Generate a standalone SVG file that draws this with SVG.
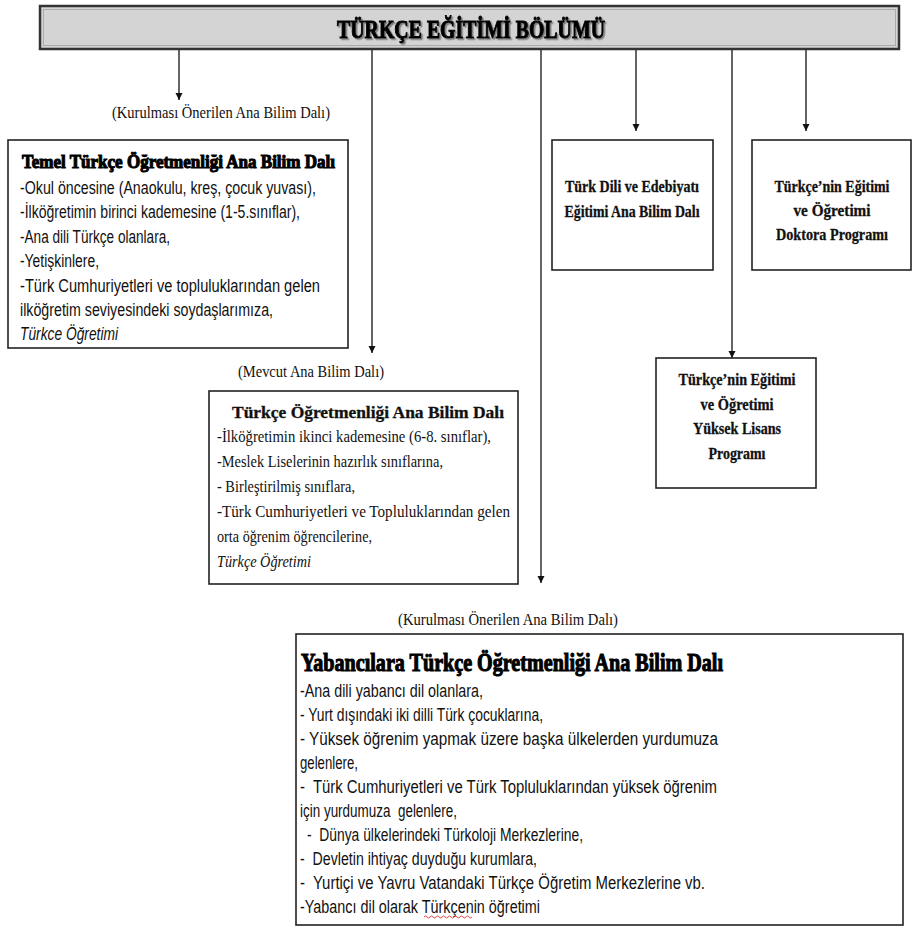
<svg xmlns="http://www.w3.org/2000/svg" width="924" height="929" viewBox="0 0 924 929">
<style>
.box{fill:#fff;stroke:#222;stroke-width:1.6}
.conn{stroke:#111;stroke-width:1.3;fill:none;marker-end:url(#ah)}
.lbl{font-family:"Liberation Serif",serif;font-size:16.5px;fill:#111}
.sans{font-family:"Liberation Sans",Arial,sans-serif;font-size:17.5px;fill:#111}
.serif{font-family:"Liberation Serif",serif;font-size:16.5px;fill:#111}
.heavy{font-family:"Liberation Serif",serif;font-weight:bold;fill:#000;stroke:#000;stroke-width:1.1}
.bs{font-family:"Liberation Serif",serif;font-weight:bold;font-size:17px;fill:#111;text-anchor:middle;stroke:#111;stroke-width:0.3}
.it{font-style:italic}
</style>
<defs>
<marker id="ah" viewBox="0 0 10 10" refX="10" refY="5" markerWidth="7" markerHeight="8" markerUnits="userSpaceOnUse" orient="auto">
<path d="M0,0 L10,5 L0,10 z" fill="#111"/>
</marker>
<filter id="sh" x="-5%" y="-20%" width="110%" height="150%">
<feDropShadow dx="1.5" dy="1.5" stdDeviation="0.6" flood-color="#666" flood-opacity="0.8"/>
</filter>
</defs>
<rect width="924" height="929" fill="#fff"/>

<g id="connectors">
<line class="conn" x1="179" y1="49" x2="179" y2="100"/>
<line class="conn" x1="372" y1="49" x2="372" y2="353"/>
<line class="conn" x1="541" y1="49" x2="541" y2="583"/>
<line class="conn" x1="636" y1="49" x2="636" y2="131"/>
<line class="conn" x1="732" y1="49" x2="732" y2="358"/>
<line class="conn" x1="806" y1="49" x2="806" y2="131"/>
</g>

<g id="header">
<rect x="40" y="6" width="859" height="43" fill="#d4d4d4" stroke="#333" stroke-width="2.5"/>
<rect x="43.5" y="9.5" width="852" height="36" fill="none" stroke="#aaa" stroke-width="1"/>
<text class="heavy" x="337" y="38" font-size="25" textLength="268" lengthAdjust="spacingAndGlyphs" filter="url(#sh)">TÜRKÇE EĞİTİMİ BÖLÜMÜ</text>
</g>

<g id="label1"><text class="lbl" x="112" y="118" textLength="218" lengthAdjust="spacingAndGlyphs">(Kurulması Önerilen Ana Bilim Dalı)</text></g>

<g id="temel">
<rect class="box" x="8" y="140" width="340" height="208"/>
<text class="heavy" x="22" y="168" font-size="19" textLength="313" lengthAdjust="spacingAndGlyphs">Temel Türkçe Öğretmenliği Ana Bilim Dalı</text>
<text class="sans" x="20" y="194" textLength="296" lengthAdjust="spacingAndGlyphs">-Okul öncesine (Anaokulu, kreş, çocuk yuvası),</text>
<text class="sans" x="20" y="218" textLength="280" lengthAdjust="spacingAndGlyphs">-İlköğretimin birinci kademesine (1-5.sınıflar),</text>
<text class="sans" x="20" y="243" textLength="150" lengthAdjust="spacingAndGlyphs">-Ana dili Türkçe olanlara,</text>
<text class="sans" x="20" y="267" textLength="79" lengthAdjust="spacingAndGlyphs">-Yetişkinlere,</text>
<text class="sans" x="20" y="292" textLength="300" lengthAdjust="spacingAndGlyphs">-Türk Cumhuriyetleri ve topluluklarından gelen</text>
<text class="sans" x="20" y="316" textLength="253" lengthAdjust="spacingAndGlyphs">ilköğretim seviyesindeki soydaşlarımıza,</text>
<text class="sans it" x="20" y="340" textLength="98" lengthAdjust="spacingAndGlyphs">Türkce Öğretimi</text>
</g>

<g id="label2"><text class="lbl" x="238" y="377" textLength="146" lengthAdjust="spacingAndGlyphs">(Mevcut Ana Bilim Dalı)</text></g>

<g id="mevcut">
<rect class="box" x="209" y="391" width="309" height="193"/>
<text class="serif" x="232" y="418" font-size="19" font-weight="bold" stroke="#111" stroke-width="0.3" textLength="272" lengthAdjust="spacingAndGlyphs">Türkçe Öğretmenliği Ana Bilim Dalı</text>
<text class="serif" x="217" y="442" textLength="274" lengthAdjust="spacingAndGlyphs">-İlköğretimin ikinci kademesine (6-8. sınıflar),</text>
<text class="serif" x="217" y="467" textLength="226" lengthAdjust="spacingAndGlyphs">-Meslek Liselerinin hazırlık sınıflarına,</text>
<text class="serif" x="217" y="492" textLength="138" lengthAdjust="spacingAndGlyphs">- Birleştirilmiş sınıflara,</text>
<text class="serif" x="217" y="517" textLength="293" lengthAdjust="spacingAndGlyphs">-Türk Cumhuriyetleri ve Topluluklarından gelen</text>
<text class="serif" x="217" y="542" textLength="155" lengthAdjust="spacingAndGlyphs">orta öğrenim öğrencilerine,</text>
<text class="serif it" x="217" y="567" textLength="94" lengthAdjust="spacingAndGlyphs">Türkçe Öğretimi</text>
</g>

<g id="label3"><text class="lbl" x="398" y="625" textLength="220" lengthAdjust="spacingAndGlyphs">(Kurulması Önerilen Ana Bilim Dalı)</text></g>

<g id="yabanci">
<rect class="box" x="296" y="634" width="607" height="291"/>
<text class="heavy" x="301" y="671" font-size="25" textLength="422" lengthAdjust="spacingAndGlyphs">Yabancılara Türkçe Öğretmenliği Ana Bilim Dalı</text>
<text class="sans" x="300" y="697" textLength="183" lengthAdjust="spacingAndGlyphs">-Ana dili yabancı dil olanlara,</text>
<text class="sans" x="300" y="721" textLength="243" lengthAdjust="spacingAndGlyphs">- Yurt dışındaki iki dilli Türk çocuklarına,</text>
<text class="sans" x="300" y="745" textLength="418" lengthAdjust="spacingAndGlyphs">- Yüksek öğrenim yapmak üzere başka ülkelerden yurdumuza</text>
<text class="sans" x="300" y="769" textLength="58" lengthAdjust="spacingAndGlyphs">gelenlere,</text>
<text class="sans" x="300" y="793" textLength="417" lengthAdjust="spacingAndGlyphs" xml:space="preserve">-  Türk Cumhuriyetleri ve Türk Topluluklarından yüksek öğrenim</text>
<text class="sans" x="300" y="817" textLength="157" lengthAdjust="spacingAndGlyphs" xml:space="preserve">için yurdumuza  gelenlere,</text>
<text class="sans" x="307" y="841" textLength="276" lengthAdjust="spacingAndGlyphs" xml:space="preserve">-  Dünya ülkelerindeki Türkoloji Merkezlerine,</text>
<text class="sans" x="300" y="865" textLength="237" lengthAdjust="spacingAndGlyphs" xml:space="preserve">-  Devletin ihtiyaç duyduğu kurumlara,</text>
<text class="sans" x="300" y="889" textLength="405" lengthAdjust="spacingAndGlyphs" xml:space="preserve">-  Yurtiçi ve Yavru Vatandaki Türkçe Öğretim Merkezlerine vb.</text>
<text class="sans" x="300" y="913" textLength="240" lengthAdjust="spacingAndGlyphs">-Yabancı dil olarak Türkçenin öğretimi</text>
<path d="M424,917 q1.5,-2 3,0 t3,0 t3,0 t3,0 t3,0 t3,0 t3,0 t3,0 t3,0 t3,0 t3,0 t3,0 t3,0 t3,0 t3,0 t3,0" fill="none" stroke="#d33" stroke-width="0.9"/>
</g>

<g id="turkdili">
<rect class="box" x="552" y="140" width="161" height="130"/>
<text class="bs" x="632" y="192" textLength="134" lengthAdjust="spacingAndGlyphs">Türk Dili ve Edebiyatı</text>
<text class="bs" x="632" y="217" textLength="135" lengthAdjust="spacingAndGlyphs">Eğitimi Ana Bilim Dalı</text>
</g>

<g id="doktora">
<rect class="box" x="752" y="140" width="159" height="130"/>
<text class="bs" x="832" y="192" textLength="115" lengthAdjust="spacingAndGlyphs">Türkçe’nin Eğitimi</text>
<text class="bs" x="832" y="216" textLength="77" lengthAdjust="spacingAndGlyphs">ve Öğretimi</text>
<text class="bs" x="832" y="240" textLength="112" lengthAdjust="spacingAndGlyphs">Doktora Programı</text>
</g>

<g id="yukseklisans">
<rect class="box" x="656" y="358" width="160" height="130"/>
<text class="bs" x="737" y="385" textLength="117" lengthAdjust="spacingAndGlyphs">Türkçe’nin Eğitimi</text>
<text class="bs" x="737" y="410" textLength="73" lengthAdjust="spacingAndGlyphs">ve Öğretimi</text>
<text class="bs" x="737" y="434" textLength="88" lengthAdjust="spacingAndGlyphs">Yüksek Lisans</text>
<text class="bs" x="737" y="459" textLength="57" lengthAdjust="spacingAndGlyphs">Programı</text>
</g>
</svg>
